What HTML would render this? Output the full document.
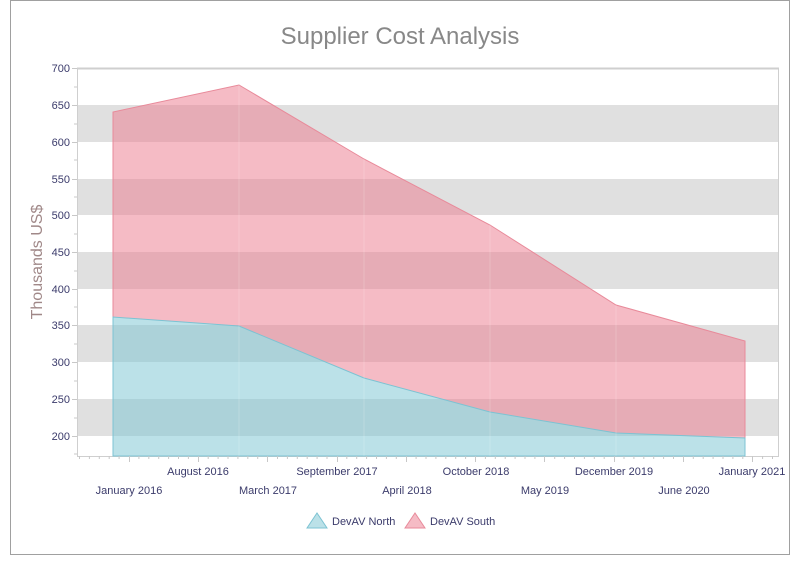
<!DOCTYPE html>
<html><head><meta charset="utf-8"><style>
html,body{margin:0;padding:0;background:#fff;}
text{font-family:"Liberation Sans",sans-serif;}
</style></head><body>
<svg width="800" height="556" viewBox="0 0 800 556" xmlns="http://www.w3.org/2000/svg">
<rect x="10.5" y="0.5" width="779" height="554" fill="#fff" stroke="#a0a0a0"/>
<text x="400" y="44" text-anchor="middle" font-size="24" fill="#888">Supplier Cost Analysis</text>
<g fill="#e0e0e0">
<rect x="77" y="105" width="702" height="37"/>
<rect x="77" y="179" width="702" height="36"/>
<rect x="77" y="252" width="702" height="37"/>
<rect x="77" y="325" width="702" height="37"/>
<rect x="77" y="399" width="702" height="37"/>
</g>
<rect x="77.5" y="68.5" width="701" height="388" fill="none" stroke="#cfcfcf"/>
<line x1="77" y1="68.5" x2="779" y2="68.5" stroke="#cfcfcf" stroke-width="2"/>
<polygon points="113,317 113,112 239,85 364,159 490,225 616,305 745,341 745,438 616,433 490,412 364,378 239,326" fill="rgba(235,120,140,0.5)"/>
<polyline points="113,317 113,112 239,85 364,159 490,225 616,305 745,341 745,438" fill="none" stroke="#e88a9a" stroke-width="1"/>
<polygon points="113,456 113,317 239,326 364,378 490,412 616,433 745,438 745,456" fill="rgba(120,195,210,0.5)" stroke="#7cc3d3" stroke-width="1"/>
<g stroke="rgba(255,255,255,0.18)"><line x1="239" y1="85" x2="239" y2="456"/><line x1="364" y1="159" x2="364" y2="456"/><line x1="490" y1="225" x2="490" y2="456"/><line x1="616" y1="305" x2="616" y2="456"/></g>
<g stroke="#c8c8c8">
<line x1="72" y1="68.5" x2="77" y2="68.5"/><line x1="72" y1="105.5" x2="77" y2="105.5"/><line x1="72" y1="142.5" x2="77" y2="142.5"/><line x1="72" y1="179.5" x2="77" y2="179.5"/><line x1="72" y1="215.5" x2="77" y2="215.5"/><line x1="72" y1="252.5" x2="77" y2="252.5"/><line x1="72" y1="289.5" x2="77" y2="289.5"/><line x1="72" y1="325.5" x2="77" y2="325.5"/><line x1="72" y1="362.5" x2="77" y2="362.5"/><line x1="72" y1="399.5" x2="77" y2="399.5"/><line x1="72" y1="436.5" x2="77" y2="436.5"/>
<line x1="74" y1="87" x2="77" y2="87"/><line x1="74" y1="124" x2="77" y2="124"/><line x1="74" y1="160" x2="77" y2="160"/><line x1="74" y1="197" x2="77" y2="197"/><line x1="74" y1="234" x2="77" y2="234"/><line x1="74" y1="271" x2="77" y2="271"/><line x1="74" y1="307" x2="77" y2="307"/><line x1="74" y1="344" x2="77" y2="344"/><line x1="74" y1="381" x2="77" y2="381"/><line x1="74" y1="418" x2="77" y2="418"/><line x1="74" y1="454" x2="77" y2="454"/>
</g>
<g font-size="11" fill="#3b3b6b" text-anchor="end">
<text x="70" y="72">700</text><text x="70" y="109">650</text><text x="70" y="146">600</text><text x="70" y="183">550</text><text x="70" y="219">500</text><text x="70" y="256">450</text><text x="70" y="293">400</text><text x="70" y="329">350</text><text x="70" y="366">300</text><text x="70" y="403">250</text><text x="70" y="440">200</text>
</g>
<text transform="translate(42,262) rotate(-90)" text-anchor="middle" font-size="16" fill="#a08888">Thousands US$</text>
<path stroke="#c8c8c8" fill="none" d="M79.5 456v3M89.4 456v3M99.3 456v3M109.2 456v3M119.1 456v3M138.9 456v3M148.8 456v3M158.7 456v3M168.6 456v3M178.5 456v3M188.4 456v3M208.2 456v3M218.1 456v3M228 456v3M237.9 456v3M247.8 456v3M257.7 456v3M277.5 456v3M287.4 456v3M297.3 456v3M307.2 456v3M317.1 456v3M327 456v3M346.8 456v3M356.7 456v3M366.6 456v3M376.5 456v3M386.4 456v3M396.3 456v3M416.1 456v3M426 456v3M435.9 456v3M445.8 456v3M455.7 456v3M465.6 456v3M485.4 456v3M495.3 456v3M505.2 456v3M515.1 456v3M525 456v3M534.9 456v3M554.7 456v3M564.6 456v3M574.5 456v3M584.4 456v3M594.3 456v3M604.2 456v3M624 456v3M633.9 456v3M643.8 456v3M653.7 456v3M663.6 456v3M673.5 456v3M693.3 456v3M703.2 456v3M713.1 456v3M723 456v3M732.9 456v3M742.8 456v3M762.6 456v3M772.5 456v3
M129.5 456v6M198.5 456v6M267.5 456v6M337.5 456v6M406.5 456v6M475.5 456v6M544.5 456v6M614.5 456v6M683.5 456v6M752.5 456v6"/>
<g font-size="11" fill="#3b3b6b" text-anchor="middle">
<text x="198" y="475">August 2016</text><text x="337" y="475">September 2017</text><text x="476" y="475">October 2018</text><text x="614" y="475">December 2019</text><text x="752" y="475">January 2021</text>
<text x="129" y="494">January 2016</text><text x="268" y="494">March 2017</text><text x="407" y="494">April 2018</text><text x="545" y="494">May 2019</text><text x="684" y="494">June 2020</text>
</g>
<polygon points="307,528 317,513 327,528" fill="rgba(120,195,210,0.5)" stroke="#7cc3d3"/>
<text x="332" y="525" font-size="11" fill="#3b3b6b">DevAV North</text>
<polygon points="405,528 415,513 425,528" fill="rgba(235,120,140,0.5)" stroke="#e88a9a"/>
<text x="430" y="525" font-size="11" fill="#3b3b6b">DevAV South</text>
</svg>
</body></html>
